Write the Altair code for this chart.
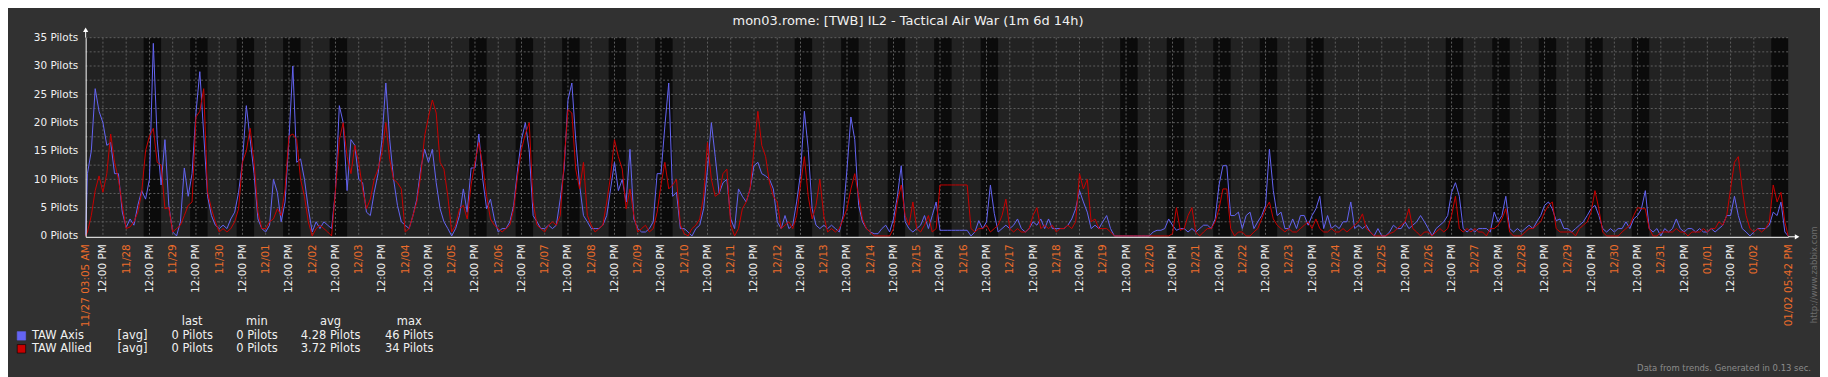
import json
import altair as alt
import pandas as pd

# ---------------- data ----------------
TITLE = "mon03.rome: [TWB] IL2 - Tactical Air War (1m 6d 14h)"
START_H = 3 + 5 / 60            # 11/27 03:05 AM (hours since 11/27 00:00)
END_H = 36 * 24 + 17 + 42 / 60  # 01/02 05:42 PM
START_LABEL = "11/27 03:05 AM"
END_LABEL = "01/02 05:42 PM"
NOON_LABEL = "12:00 PM"

day_labels = ["11/27", "11/28", "11/29", "11/30", "12/01", "12/02", "12/03", "12/04",
              "12/05", "12/06", "12/07", "12/08", "12/09", "12/10", "12/11", "12/12",
              "12/13", "12/14", "12/15", "12/16", "12/17", "12/18", "12/19", "12/20",
              "12/21", "12/22", "12/23", "12/24", "12/25", "12/26", "12/27", "12/28",
              "12/29", "12/30", "12/31", "01/01", "01/02"]

# weekdays (index of day since 11/27) shown with the darker work-period band 09:00-18:00
work_days = [1, 2, 3, 4, 5, 8, 9, 10, 11, 12, 15, 16, 17, 18, 19, 22, 23, 24, 25, 26,
             29, 30, 31, 32, 33, 36]
WORK_FROM, WORK_TO = 9, 18

# values every 2 hours; day 0 starts at 04:00, others at 00:00
axis_by_day = [
    [11, 15, 26, 22, 20, 16, 16.5, 11, 11, 4.2],
    [1.5, 3, 1.9, 5.4, 8, 6.5, 10, 34, 17, 9, 17, 5.4],
    [0.7, 0, 2.5, 12, 7, 11, 21.7, 29, 18, 7, 3.6, 1.9],
    [1.3, 1.9, 1.3, 3, 4.2, 7.7, 13, 23, 17, 11, 3, 1.3],
    [0.7, 1.9, 10, 7.7, 2.5, 6, 17, 30, 13, 13.6, 10, 4.8],
    [0.7, 2.5, 1.3, 2.5, 1.9, 1.3, 8, 23, 20, 8, 17, 16],
    [10, 9.4, 4.2, 3.6, 7.7, 11, 17, 27, 17, 10, 5.4, 2.5],
    [1.9, 1.3, 3.6, 6.5, 11.8, 15.3, 13, 15.3, 9.4, 4.8, 2.5, 1.3],
    [0, 1.3, 3.6, 8.3, 4.2, 12, 12, 18, 10, 4.8, 6.5, 3],
    [0.7, 1.3, 1.3, 2.5, 5.4, 11.8, 17, 20, 15, 3.6, 2.5, 1.3],
    [1.3, 1.9, 1.3, 1.9, 6.5, 11.8, 24, 27, 17, 9, 3.6, 2.5],
    [1.3, 1.3, 1.3, 1.9, 3.6, 8.3, 13, 8, 10, 6, 15.3, 3],
    [1.3, 0.7, 0.7, 1.3, 2.5, 11, 11, 19.4, 27, 7, 7.7, 1.3],
    [1.3, 0.7, 0, 1.3, 1.9, 4.8, 11.8, 20, 14, 7.5, 9.4, 10],
    [3, 1.3, 8.3, 7, 6, 8.3, 12.4, 13, 11, 10.6, 10, 8.3],
    [2.5, 1.3, 3.6, 1.3, 1.9, 6, 11, 22, 15.3, 4.8, 1.9, 1.3],
    [1.9, 1.3, 1.9, 1.3, 0.7, 3.6, 11.8, 21, 17, 5.4, 2.5, 1.3],
    [0.7, 0.4, 0.4, 1.3, 1.9, 0.7, 3, 7, 12.4, 2.5, 1.3, 0.7],
    [1.3, 1.9, 3.6, 1.3, 3.6, 6, 1, 1, 1, 1, 1, 1],
    [1, 1, 0, 0.7, 2.7, 1.3, 2.5, 9, 4, 0.7, 1.3, 1.9],
    [1.3, 1.9, 3, 1.3, 0.7, 1.3, 2.5, 1.9, 3, 1.3, 3, 1.3],
    [1.3, 1.3, 1.3, 1.9, 3, 4.8, 8, 6, 4.2, 1.3, 1.9, 1.3],
    [2.5, 3.6, 1.3, 0, 0, 0, 0, 0, 0, 0, 0, 0],
    [0, 0.7, 1, 1, 1.3, 3, 1.9, 1, 1.3, 1.3, 0.7, 1.3],
    [0.7, 1.3, 1.9, 1.9, 1.3, 3, 9, 12.4, 12.4, 3.6, 3.6, 4.2],
    [1.3, 3.6, 4.2, 1.3, 2.5, 3.6, 5.4, 15.3, 8, 3.6, 4.2, 1.3],
    [1.3, 3, 1.3, 3.6, 3.6, 1.9, 3.6, 4.8, 7, 1.3, 3.6, 1.3],
    [1.9, 1.3, 2.5, 2.5, 6, 1.3, 1.9, 1.3, 1.9, 0.7, 0, 1.3],
    [0, 0, 0.7, 1.9, 1.3, 1.3, 2.5, 1.3, 1.9, 2.5, 3.6, 2.5],
    [1.3, 0, 1.3, 1.9, 2.5, 3.6, 7.7, 9.4, 7, 1.3, 0.7, 1.3],
    [0.7, 1.3, 1.3, 1.3, 0.7, 4.2, 2.5, 3.6, 7, 1.3, 0.7, 1.3],
    [0.7, 1.3, 1.9, 1.3, 2.5, 3.6, 5.4, 6, 4.8, 2.7, 3, 1.3],
    [1.3, 0.7, 1.3, 1.9, 2.5, 3.6, 4.8, 5.4, 3.6, 1.3, 0.7, 1.3],
    [0.7, 1.3, 1.3, 2.5, 1.3, 3, 3.6, 4.8, 8, 1.3, 0.7, 1.3],
    [0, 1.3, 0.7, 1.3, 3, 1.3, 0.7, 1.3, 1.3, 0.7, 1.3, 0.7],
    [0.7, 1.3, 0.7, 1.3, 1.9, 3.6, 3.6, 7, 3.6, 1.3, 0.7, 0],
    [0.7, 1.3, 1.3, 1.3, 1.9, 4.2, 3.6, 6, 0.7],
]

allied_by_day = [
    [0.7, 3.6, 8, 10.6, 7.7, 11, 18, 13, 10, 5.4],
    [1.3, 1.6, 2.5, 4.2, 7.7, 15, 17.6, 19, 13, 12.5, 4.8, 5],
    [0.7, 1.3, 1.9, 3.6, 5.4, 6, 21, 22, 26, 7.7, 4.8, 2.5],
    [0.7, 1.3, 0.7, 1.3, 2.5, 4.8, 13, 15, 19, 13, 4.2, 1.3],
    [1.3, 2.5, 3, 4.8, 3.6, 8.3, 17.6, 18, 17, 10, 7, 2.5],
    [0, 1.3, 1.9, 1.3, 0.7, 0, 8, 17, 20, 14, 11, 16],
    [13, 8.3, 4.8, 6.5, 10, 11.8, 14.7, 20, 13.5, 10, 9.4, 8.3],
    [0.7, 1.3, 3.6, 6, 10.6, 17.6, 21, 24, 21.7, 13, 11.8, 7],
    [0.7, 1.9, 4.8, 5.4, 3, 9, 13, 16.5, 12.4, 7, 3, 1.9],
    [1.3, 0.7, 1.3, 1.9, 4.8, 10.6, 15.3, 18, 20, 6, 1.9, 1.3],
    [0.7, 1.9, 2.5, 1.9, 3.6, 13, 22.3, 21.7, 11.8, 8.3, 13, 3.6],
    [1.9, 0.7, 1.3, 1.9, 6, 10.6, 17, 14, 11.8, 4.8, 8.3, 3.6],
    [0.7, 1.3, 1.9, 0.7, 1.3, 4.2, 9, 13, 8.3, 9, 10, 2],
    [0.4, 0, 1.3, 1.9, 3, 7, 16.5, 10, 7, 7.5, 11, 11.8],
    [1.9, 0, 1.3, 4.8, 6, 8.3, 15.3, 22, 16, 14, 9.4, 7],
    [6, 1.3, 1.9, 2.5, 1.3, 3.6, 9, 14, 7, 3, 5.4, 10],
    [3.6, 0.7, 1.3, 0.7, 1.3, 3, 4.8, 8.3, 11, 7, 3, 1.3],
    [0.7, 0, 0, 0, 0, 0, 1.3, 6, 9, 3.6, 1.9, 6],
    [1.3, 0.7, 1.9, 3.6, 0.7, 1.3, 9, 9, 9, 9, 9, 9],
    [9, 9, 1.3, 0.7, 1.3, 1.3, 1.9, 0.7, 1.3, 1.9, 3.6, 6.5],
    [1.3, 0.7, 1.3, 0.7, 0.7, 1.3, 3.6, 5, 1.3, 1.9, 1.3, 1.9],
    [0.7, 1.3, 1.3, 1.9, 1.3, 2.5, 11, 8.3, 10, 2.5, 3, 1.3],
    [1.3, 1.3, 0.7, 0, 0, 0, 0, 0, 0, 0, 0, 0],
    [0, 0, 0, 0, 0, 0, 0.4, 5, 1, 1.3, 3.6, 5],
    [0.7, 0, 0.7, 1.3, 1.3, 2.5, 4.8, 8.3, 8.3, 1.3, 0, 0.7],
    [0.7, 0, 0, 0.7, 1.3, 3, 4.8, 6, 3, 1.9, 1.3, 0.7],
    [1.3, 0.7, 0.7, 1.3, 1.9, 2.5, 1.3, 3, 1.3, 0.7, 0.7, 1.3],
    [0.7, 0.7, 1.3, 0.7, 1.3, 1.9, 2.5, 3.9, 1.3, 0.7, 0, 0],
    [0, 0, 0.4, 0.7, 1.3, 1.9, 2.5, 4.8, 1.3, 0.7, 0, 0.7],
    [0.7, 0, 0.7, 1.3, 0.7, 1.3, 3.6, 7, 1.3, 0.7, 1.3, 0.7],
    [1.3, 0.7, 0.7, 0, 1.3, 1.3, 1.9, 3, 4.8, 0.7, 0, 0],
    [0, 0.7, 1.3, 1.3, 1.9, 2.5, 4.2, 5.4, 6, 1.3, 0.7, 0.7],
    [0.7, 0.7, 0, 1.3, 1.9, 2.5, 4.2, 8, 4.8, 0.7, 0, 0],
    [0, 0, 0.7, 1.3, 1.9, 3.6, 5, 4.8, 4.8, 1.3, 0, 0],
    [0.7, 0.7, 0.7, 0.7, 1.3, 0.7, 0.7, 0, 0.7, 0.7, 0.7, 1.3],
    [0.7, 1.3, 1.3, 2.5, 1.9, 3.6, 8.3, 13, 14, 8.3, 3.6, 1.3],
    [0.7, 1.3, 0.7, 1.3, 2.5, 9, 6, 7.7, 2.5],
]

series_names = ["TAW Axis", "TAW Allied"]
series_colors = ["#6464f2", "#c80000"]
legend_func = ["[avg]", "[avg]"]
legend_last = ["0 Pilots", "0 Pilots"]
legend_min = ["0 Pilots", "0 Pilots"]
legend_avg = ["4.28 Pilots", "3.72 Pilots"]
legend_max = ["46 Pilots", "34 Pilots"]
legend_headers = ["last", "min", "avg", "max"]

y_label_values = [0, 5, 10, 15, 20, 25, 30, 35]
y_grid_values = [2.5, 5, 7.5, 10, 12.5, 15, 17.5, 20, 22.5, 25, 27.5, 30, 32.5, 35]
FOOTER = "Data from trends. Generated in 0.13 sec."
SIDE_TEXT = "http://www.zabbix.com"

# ---------------- build tables ----------------
def series_frame(name, by_day):
    rows = [{"t": START_H, "v": 0.0, "s": name}]
    for d, vals in enumerate(by_day):
        h0 = 4 if d == 0 else 0
        for i, v in enumerate(vals):
            rows.append({"t": 24 * d + h0 + 2 * i, "v": v, "s": name})
    rows.append({"t": END_H, "v": 0.0, "s": name})
    return pd.DataFrame(rows)

axis_df = series_frame(series_names[0], axis_by_day)
allied_df = series_frame(series_names[1], allied_by_day)

bands_df = pd.DataFrame({
    "a": [24 * d + WORK_FROM for d in work_days],
    "b": [min(24 * d + WORK_TO, END_H) for d in work_days],
})

grid_times = [12 * k for k in range(1, 73)]
tick_values = [START_H] + grid_times + [END_H]
vgrid_df = pd.DataFrame({"t": grid_times})
hgrid_df = pd.DataFrame({"v": y_grid_values})

# ---------------- layout ----------------
W, H = 1710, 200
FONT = "DejaVu Sans"
TXT = "#f0f0f0"
ORANGE = "#ec6c2a"

xscale = alt.Scale(domain=[START_H, END_H], nice=False, zero=False)
yscale = alt.Scale(domain=[-0.15, 35], nice=False, zero=False)

label_expr = (
    f"datum.value < 4 ? '{START_LABEL}' : datum.value > 880 ? '{END_LABEL}' : "
    f"(datum.value % 24 == 12 ? '{NOON_LABEL}' : {json.dumps(day_labels)}[floor(datum.value / 24)])"
)

x_axis = alt.Axis(
    values=tick_values, labelExpr=label_expr, labelAngle=270, labelAlign="right",
    labelBaseline="middle", labelPadding=7, labelOverlap=False, labelFlush=False,
    labelBound=False, labelFont=FONT, labelFontSize=10.5,
    labelColor={"condition": {"test": "datum.value % 24 == 12", "value": TXT}, "value": ORANGE},
    ticks=False, grid=False, domainColor="#ffffff", domainWidth=1, title=None, zindex=1,
)
y_axis = alt.Axis(
    values=y_label_values, labelExpr="datum.value + ' Pilots'", labelFont=FONT,
    labelFontSize=10.5, labelColor=TXT, labelPadding=8, labelOverlap=False, ticks=False,
    grid=False, domainColor="#ffffff", domainWidth=1, title=None, zindex=1,
)

def X(field):
    return alt.X(field, scale=xscale, axis=x_axis)

def Y(field):
    return alt.Y(field, scale=yscale, axis=y_axis)

bands = alt.Chart(bands_df).mark_rect(color="#0b0b0b").encode(
    x=X("a:Q"), x2="b:Q", y=alt.value(0), y2=alt.value(H),
)

grid_style = dict(color="#5e5e5e", strokeDash=[2, 2], strokeWidth=1)
vgrid = alt.Chart(vgrid_df).mark_rule(**grid_style).encode(
    x=X("t:Q"), y=alt.value(0), y2=alt.value(H))
hgrid = alt.Chart(hgrid_df).mark_rule(**grid_style).encode(
    y=Y("v:Q"), x=alt.value(0), x2=alt.value(W))

def line(df, color):
    return alt.Chart(df).mark_line(color=color, strokeWidth=1, interpolate="linear").encode(
        x=X("t:Q"), y=Y("v:Q"))

axis_line = line(axis_df, series_colors[0])
allied_line = line(allied_df, series_colors[1])

one = pd.DataFrame({"k": [0]})
arrows = [
    alt.Chart(one).mark_rule(color="white", strokeWidth=1).encode(
        x=alt.value(0), y=alt.value(-6), y2=alt.value(0)),
    alt.Chart(one).mark_point(shape="triangle-up", filled=True, color="white", size=28, opacity=1).encode(
        x=alt.value(0), y=alt.value(-8)),
    alt.Chart(one).mark_rule(color="white", strokeWidth=1).encode(
        x=alt.value(W), x2=alt.value(W + 8), y=alt.value(H)),
    alt.Chart(one).mark_point(shape="triangle-right", filled=True, color="white", size=28, opacity=1).encode(
        x=alt.value(W + 9), y=alt.value(H)),
]

def text(s, x, y, size=11.5, color=TXT, align="left", angle=0, baseline="middle"):
    return alt.Chart(pd.DataFrame({"s": [s]})).mark_text(
        font=FONT, fontSize=size, color=color, align=align, baseline=baseline, angle=angle,
    ).encode(text="s:N", x=alt.value(x), y=alt.value(y))

texts = [text(TITLE, 826, -17, size=13, align="center")]
# legend table (page coords minus plot origin 86, 37)
col_centers = [107, 172, 246, 325]
for hdr, cx in zip(legend_headers, col_centers):
    texts.append(text(hdr, cx, 286, align="center"))
row_y = [300, 313]
for i in range(2):
    ry = row_y[i]
    texts.append(text(series_names[i], -54, ry))
    texts.append(text(legend_func[i], 47, ry, align="center"))
    for col, cx in zip([legend_last, legend_min, legend_avg, legend_max], col_centers):
        texts.append(text(col[i], cx, ry, align="center"))
squares = [
    alt.Chart(one).mark_square(size=72, filled=True, color=series_colors[i], opacity=1,
                               stroke="#000000" if i else series_colors[i], strokeWidth=0.6).encode(
        x=alt.value(-64.5), y=alt.value(row_y[i] - 0.5))
    for i in range(2)
]
texts.append(text(FOOTER, 1733, 332, size=8.5, color="#8c8c8c", align="right"))
texts.append(text(SIDE_TEXT, 1736, 238, size=8.5, color="#6e6e6e", align="center", angle=270))

chart = alt.layer(
    bands, vgrid, hgrid, axis_line, allied_line, *arrows, *squares, *texts
).properties(
    width=W, height=H,
    padding={"left": 78, "top": 29, "right": 32, "bottom": 140},
    autosize=alt.AutoSizeParams(type="none"),
).configure(background="#313131", font=FONT).configure_view(fill="#222222", strokeWidth=0)

chart.save("out.html", embed_options={"renderer": "svg", "actions": False})
